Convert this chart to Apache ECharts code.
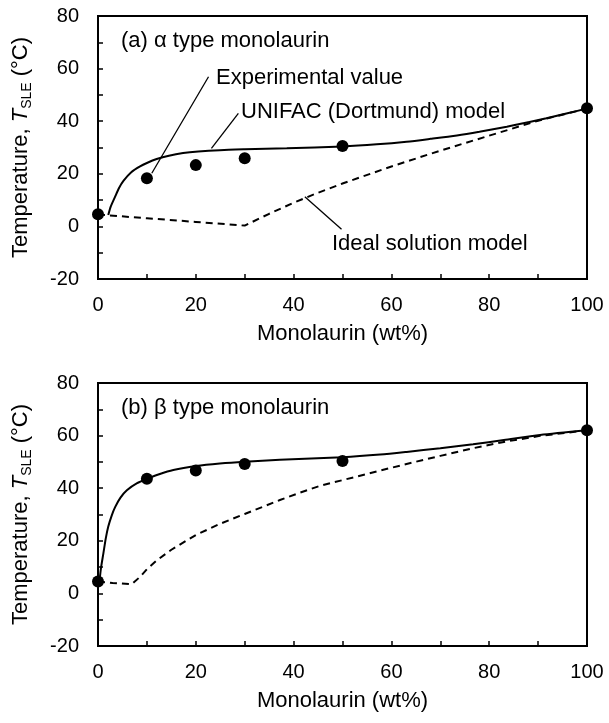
<!DOCTYPE html>
<html>
<head>
<meta charset="utf-8">
<script src="https://cdn.jsdelivr.net/npm/echarts@6/dist/echarts.min.js"></script>
<style>
html, body { margin: 0; padding: 0; background: #fff; }
#container { width: 609px; height: 723px; }
</style>
</head>
<body>
<div id="container"></div>
<script>
// (a) alpha type monolaurin
var expA = [[0, 4.6], [10, 18.3], [20, 23.3], [30, 25.9], [50, 30.6], [100, 44.9]];
var unifacA = [[2.1, 4.3], [2.6, 7.5], [3.5, 11.3], [4.3, 14.6], [5.2, 17.3], [6.8, 20.6], [8.6, 22.8],
    [10, 24.1], [12, 25.6], [14.5, 26.9], [17.4, 27.9], [20.5, 28.5], [24.9, 29], [30, 29.3], [38.6, 29.7],
    [50, 30.4], [57, 31.2], [63.1, 32.2], [68, 33.3], [73.4, 34.6], [78, 36], [83.6, 37.9], [88, 39.6],
    [91.7, 41.1], [96, 43], [100, 44.8]];
var idealA = [[0, 4.5], [10, 3.1], [20, 1.7], [30, 0.3], [35, 4.8], [40, 9], [45, 12.8], [50, 16.3],
    [60, 22.8], [70, 28.8], [80, 34.5], [90, 40.2], [100, 44.8]];

// (b) beta type monolaurin
var expB = [[0, 4.5], [10, 43.6], [20, 46.7], [30, 49.2], [50, 50.3], [100, 62]];
var unifacB = [[0.3, 4.5], [0.6, 9.5], [1.1, 15.2], [1.6, 21], [2.1, 25.4], [2.8, 29.6], [3.5, 32.8],
    [4.6, 36.4], [5.9, 39.2], [8, 41.9], [10.1, 43.6], [12.5, 45.3], [15.4, 46.9], [20, 48.4], [24.9, 49.4],
    [30, 50.1], [37.2, 50.8], [50, 51.8], [57.7, 52.8], [63.1, 53.8], [70, 55.2], [76.7, 56.7], [83, 58.3],
    [90.4, 60.2], [100, 62]];
var idealB = [[0, 4.5], [3, 4], [6.9, 3.5], [8.6, 6.3], [10, 9.2], [12, 12.5], [15, 16.6], [20, 22.2],
    [25, 26.5], [30, 30.2], [37.2, 35.5], [41.3, 38.3], [45.4, 40.9], [50.5, 43.3], [57.7, 46.7],
    [63.1, 49.2], [70, 52.3], [76.7, 55.2], [83, 57.6], [90.4, 59.9], [100, 62]];

// leader lines (data units)
var leaderExp = [[22.6, 56.9], [11.0, 20.2]];
var leaderUnifac = [[28.7, 43.0], [23.2, 29.7]];
var leaderIdeal = [[42.3, 11.3], [49.8, -1.1]];

var xTicks = { min: 0, max: 100, interval: 10 };
var yTicks = { min: -20, max: 80, interval: 10 };

var FONT = 'Liberation Sans, Arial, sans-serif';

var dom = document.getElementById('container');
var myChart = echarts.init(dom, null, { renderer: 'canvas' });

function xAxisFor(gridIndex) {
    return {
        type: 'value',
        gridIndex: gridIndex,
        min: xTicks.min,
        max: xTicks.max,
        interval: xTicks.interval,
        name: 'Monolaurin (wt%)',
        nameLocation: 'middle',
        nameGap: 44,
        nameTextStyle: { color: '#000', fontSize: 22, fontFamily: FONT },
        axisLine: { onZero: false, lineStyle: { color: '#000', width: 2 } },
        axisTick: { inside: true, length: 5, lineStyle: { color: '#000', width: 1.5 } },
        axisLabel: {
            color: '#000', fontSize: 20, fontFamily: FONT, margin: 16,
            formatter: function (v) { return v % 20 === 0 ? String(v) : ''; }
        },
        splitLine: { show: false }
    };
}

function yAxisFor(gridIndex) {
    return {
        type: 'value',
        gridIndex: gridIndex,
        min: yTicks.min,
        max: yTicks.max,
        interval: yTicks.interval,
        name: '{n|Temperature, }{i|T}{s|SLE}{n| (°C)}',
        nameLocation: 'middle',
        nameGap: 64,
        nameTextStyle: {
            color: '#000', fontFamily: FONT,
            rich: {
                n: { fontSize: 22, fontFamily: FONT, color: '#000', lineHeight: 26 },
                i: { fontSize: 22, fontFamily: FONT, color: '#000', fontStyle: 'italic', lineHeight: 26 },
                s: { fontSize: 14, fontFamily: FONT, color: '#000', verticalAlign: 'bottom', lineHeight: 18 }
            }
        },
        axisLine: { onZero: false, lineStyle: { color: '#000', width: 2 } },
        axisTick: { inside: true, length: 5, lineStyle: { color: '#000', width: 1.5 } },
        axisLabel: {
            color: '#000', fontSize: 20, fontFamily: FONT, margin: 19,
            formatter: function (v) { return v % 20 === 0 ? String(v) : ''; }
        },
        splitLine: { show: false }
    };
}

function curve(data, idx, dashed) {
    return {
        type: 'line',
        xAxisIndex: idx,
        yAxisIndex: idx,
        data: data,
        showSymbol: false,
        smooth: dashed ? false : 0.25,
        lineStyle: { color: '#000', width: 2, type: dashed ? [7, 5] : 'solid' },
        silent: true,
        z: 2
    };
}

function leader(data) {
    return {
        type: 'line',
        xAxisIndex: 0,
        yAxisIndex: 0,
        data: data,
        showSymbol: false,
        lineStyle: { color: '#000', width: 1.3 },
        silent: true,
        z: 3
    };
}

function points(data, idx) {
    return {
        type: 'scatter',
        xAxisIndex: idx,
        yAxisIndex: idx,
        data: data,
        symbol: 'circle',
        symbolSize: 12,
        itemStyle: { color: '#000', opacity: 1 },
        z: 5
    };
}

function label(text, x, y) {
    return {
        type: 'text',
        x: x,
        y: y,
        style: { text: text, font: '22px ' + FONT, fill: '#000', verticalAlign: 'middle' },
        z: 10
    };
}

myChart.setOption({
    backgroundColor: '#fff',
    animation: false,
    grid: [
        { left: 98, top: 16, width: 489, height: 263, show: true, borderColor: '#000', borderWidth: 2, backgroundColor: 'transparent' },
        { left: 98, top: 383, width: 489, height: 263, show: true, borderColor: '#000', borderWidth: 2, backgroundColor: 'transparent' }
    ],
    xAxis: [xAxisFor(0), xAxisFor(1)],
    yAxis: [yAxisFor(0), yAxisFor(1)],
    graphic: [
        label('(a) α type monolaurin', 121, 41),
        label('Experimental value', 216, 78),
        label('UNIFAC (Dortmund) model', 241, 112),
        label('Ideal solution model', 332, 244),
        label('(b) β type monolaurin', 121, 408)
    ],
    series: [
        curve(unifacA, 0, false),
        curve(idealA, 0, true),
        points(expA, 0),
        leader(leaderExp),
        leader(leaderUnifac),
        leader(leaderIdeal),
        curve(unifacB, 1, false),
        curve(idealB, 1, true),
        points(expB, 1)
    ]
});

window.addEventListener('resize', function () {
    myChart.resize();
});
</script>
</body>
</html>
